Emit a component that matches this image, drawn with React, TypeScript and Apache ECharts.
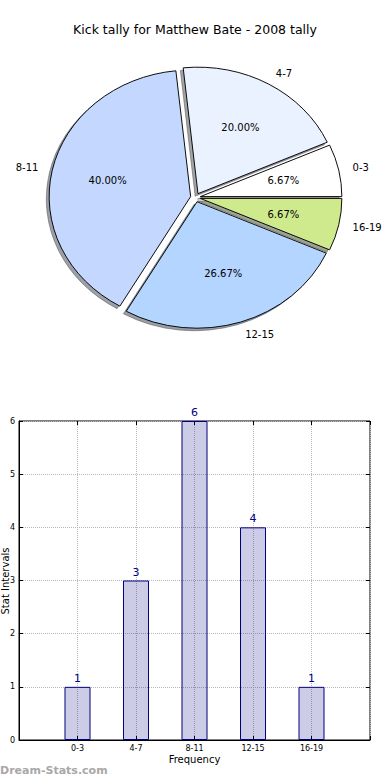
import React, { useEffect, useRef } from "react";
import * as echarts from "echarts";

const titleText = "Kick tally for Matthew Bate - 2008 tally";
const categories = ["0-3", "4-7", "8-11", "12-15", "16-19"];
const counts = [1, 3, 6, 4, 1];
const pieColors = ["#ffffff", "#ebf2ff", "#c4d8ff", "#b4d5ff", "#cfea8c"];
const yTicks = [0, 1, 2, 3, 4, 5, 6];
const xName = "Frequency";
const yName = "Stat Intervals";
const watermark = "Dream-Stats.com";

const FONT = '"DejaVu Sans", Verdana, sans-serif';

function shade(hex: string, k: number) {
  const n = parseInt(hex.slice(1), 16);
  const r = Math.round(((n >> 16) & 255) * k);
  const g = Math.round(((n >> 8) & 255) * k);
  const b = Math.round((n & 255) * k);
  return `rgb(${r},${g},${b})`;
}

export default function App() {
  const ref = useRef<HTMLDivElement>(null);
  useEffect(() => {
    document.body.style.margin = "0";
    const chart = echarts.init(ref.current!, null, { renderer: "svg" });
    const total = counts.reduce((a, b) => a + b, 0);
    const CX = 195.5, CY = 197.5, RX = 141.5, RY = 126.5, EXP = 0.035;
    const s = RY / RX;

    const option: any = {
      animation: false,
      backgroundColor: "#fff",
      title: {
        text: titleText,
        left: "center",
        top: 23,
        padding: 0,
        textStyle: { fontFamily: FONT, fontWeight: "normal", fontSize: 12.5, color: "#000" },
      },
      graphic: [
        {
          type: "text",
          left: 0,
          top: 765,
          style: { text: watermark, fill: "#a8a8a8", fontSize: 11, fontWeight: "bold", fontFamily: FONT },
        },
        {
          type: "text",
          x: 5.5,
          y: 581,
          rotation: Math.PI / 2,
          style: {
            text: yName,
            fill: "#000",
            fontSize: 10,
            fontFamily: FONT,
            align: "center",
            verticalAlign: "middle",
          },
        },
      ],
      grid: {
        left: 19,
        right: 20,
        top: 421,
        bottom: 40,
        containLabel: false,
        outerBoundsMode: "none",
        show: true,
        borderColor: "#000",
        borderWidth: 1,
        backgroundColor: "transparent",
      },
      xAxis: [
        {
          type: "value",
          min: -1,
          max: categories.length,
          interval: 1,
          name: xName,
          nameLocation: "middle",
          nameGap: 14,
          nameTextStyle: { fontFamily: FONT, fontSize: 10, color: "#000" },
          axisLine: { show: true, onZero: false, lineStyle: { color: "#000" } },
          axisTick: { show: true, inside: true, length: 4, lineStyle: { color: "#000" } },
          axisLabel: {
            fontFamily: FONT,
            fontSize: 8,
            color: "#000",
            margin: 4,
            formatter: (v: number) => categories[v] ?? "",
          },
          splitLine: { show: true, lineStyle: { color: "#b8b8b8", type: "dotted", width: 1 } },
        },
        {
          type: "value",
          position: "top",
          min: -1,
          max: categories.length,
          interval: 1,
          axisLine: { show: false, onZero: false },
          axisTick: { show: true, inside: true, length: 4, lineStyle: { color: "#000" } },
          axisLabel: { show: false },
          splitLine: { show: false },
        },
      ],
      yAxis: [
        {
          type: "value",
          min: yTicks[0],
          max: yTicks[yTicks.length - 1],
          interval: 1,
          axisLine: { show: true, onZero: false, lineStyle: { color: "#000" } },
          axisTick: { show: true, inside: true, length: 4, lineStyle: { color: "#000" } },
          axisLabel: { fontFamily: FONT, fontSize: 8, color: "#000", margin: 4 },
          splitLine: { show: true, lineStyle: { color: "#b8b8b8", type: "dotted", width: 1 } },
        },
        {
          type: "value",
          position: "right",
          min: yTicks[0],
          max: yTicks[yTicks.length - 1],
          interval: 1,
          axisLine: { show: false, onZero: false },
          axisTick: { show: true, inside: true, length: 4, lineStyle: { color: "#000" } },
          axisLabel: { show: false },
          splitLine: { show: false },
        },
      ],
      series: [
        {
          type: "custom",
          coordinateSystem: "none",
          data: counts,
          silent: true,
          renderItem: (params: any) => {
            const i = params.dataIndex;
            const v = counts[i];
            let cum = 0;
            for (let k = 0; k < i; k++) cum += counts[k];
            const a1 = (cum / total) * Math.PI * 2;
            const a2 = ((cum + v) / total) * Math.PI * 2;
            const mid = (a1 + a2) / 2;
            const ex = EXP * RX;
            const ox = ex * Math.cos(mid);
            const oy = -ex * Math.sin(mid);
            const wedge = (dx: number, dy: number, fill: string, stroke: string, opacity: number) => ({
              type: "sector",
              shape: { cx: ox + dx, cy: oy + dy, r: RX, r0: 0, startAngle: -a2, endAngle: -a1, clockwise: true },
              style: { fill, stroke, lineWidth: 1, opacity },
            });
            const shadowCol = shade(pieColors[i], 0.3);
            const lx = CX + ox + 1.1 * RX * Math.cos(mid);
            const ly = CY + (oy - 1.1 * RX * Math.sin(mid)) * s;
            const px = CX + ox + 0.6 * RX * Math.cos(mid);
            const py = CY + (oy - 0.6 * RX * Math.sin(mid)) * s;
            return {
              type: "group",
              children: [
                {
                  type: "group",
                  x: CX,
                  y: CY,
                  scaleY: s,
                  children: [
                    wedge(-0.02 * RX, 0.02 * RX, shadowCol, shadowCol, 0.5),
                    wedge(0, 0, pieColors[i], "#000", 1),
                  ],
                },
                {
                  type: "text",
                  x: lx,
                  y: ly,
                  style: {
                    text: categories[i],
                    fill: "#000",
                    fontSize: 10,
                    fontFamily: FONT,
                    align: Math.cos(mid) > 0 ? "left" : "right",
                    verticalAlign: "middle",
                  },
                },
                {
                  type: "text",
                  x: px,
                  y: py,
                  style: {
                    text: ((v / total) * 100).toFixed(2) + "%",
                    fill: "#000",
                    fontSize: 10,
                    fontFamily: FONT,
                    align: "center",
                    verticalAlign: "middle",
                  },
                },
              ],
            };
          },
        },
        {
          type: "bar",
          xAxisIndex: 0,
          yAxisIndex: 0,
          barWidth: 26,
          data: counts.map((c, i) => [i, c]),
          itemStyle: { color: "rgba(0,0,128,0.2)", borderColor: "#000080", borderWidth: 1 },
          label: {
            show: true,
            position: "top",
            distance: 3,
            color: "#000080",
            fontSize: 11,
            fontFamily: FONT,
            formatter: (p: any) => String(p.value[1]),
          },
        },
      ],
    };
    chart.setOption(option);
    return () => chart.dispose();
  }, []);
  return <div ref={ref} style={{ width: 390, height: 780 }} />;
}
